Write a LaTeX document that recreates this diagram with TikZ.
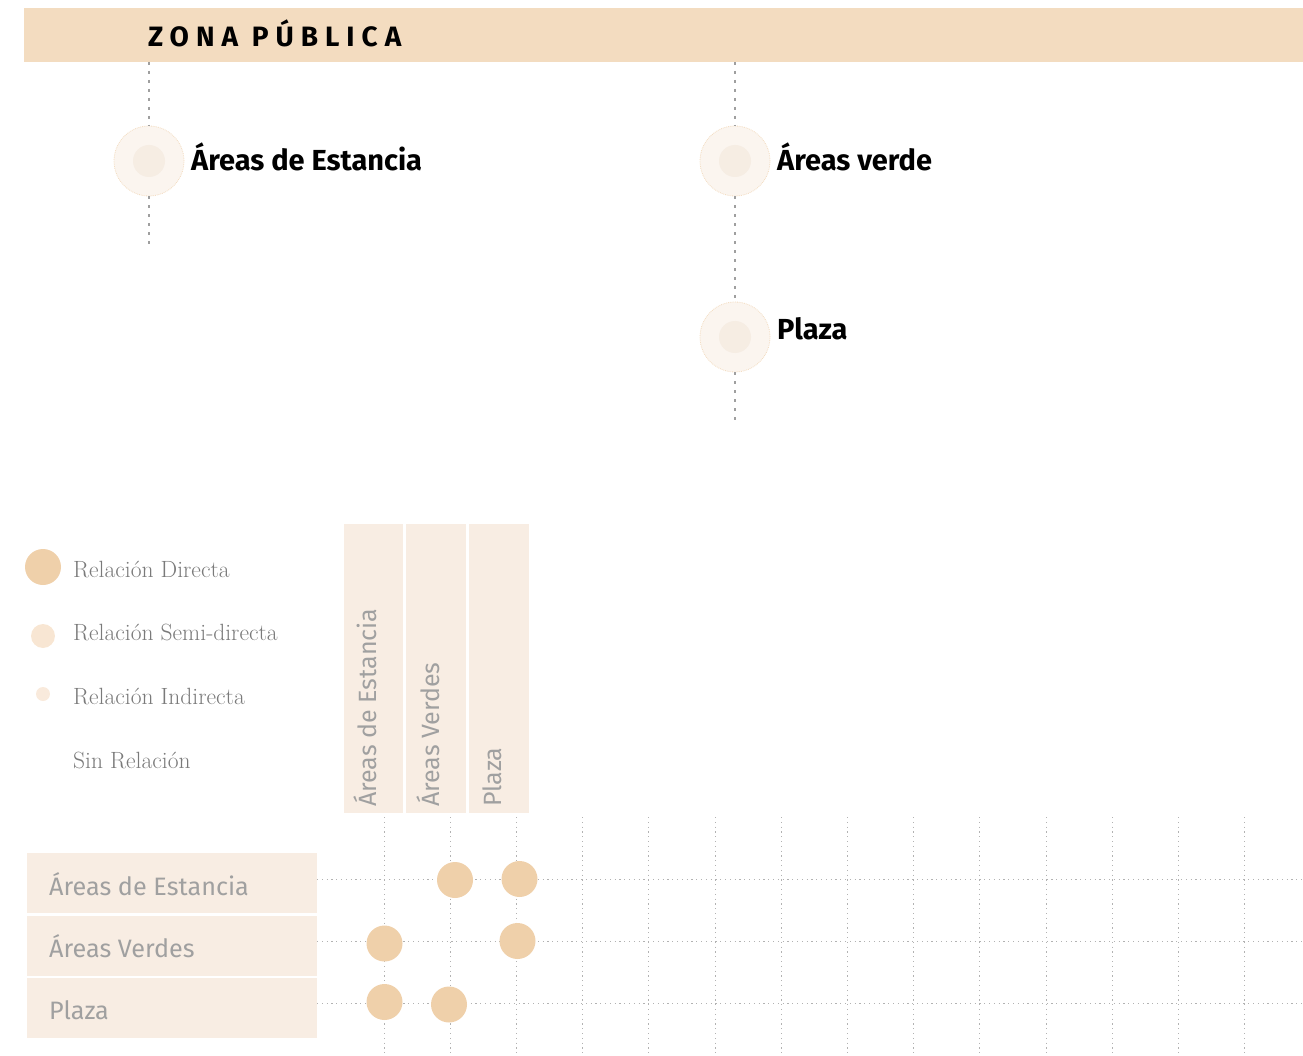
\documentclass[tikz,border=0pt]{standalone}
\usepackage{fontspec}
\newfontfamily\fira{Fira Sans}
\newfontfamily\firasp{Fira Sans}[LetterSpace=25]
\definecolor{hdr}{HTML}{F3DCC0}
\definecolor{boxc}{HTML}{F8EDE3}
\definecolor{dotd}{HTML}{EFD0AA}
\definecolor{dots}{HTML}{F8E6D3}
\definecolor{doti}{HTML}{F9EADC}
\definecolor{ringout}{HTML}{FBF5EF}
\definecolor{ringin}{HTML}{F6EDE3}
\definecolor{lgtxt}{HTML}{7A7A7A}
\definecolor{gtxt}{HTML}{A0A0A0}
\begin{document}
\begin{tikzpicture}[x=1pt,y=-1pt,
  treeline/.style={draw=gray!75, line width=2pt, dash pattern=on 3pt off 6pt},
  gridline/.style={draw=gray!60, line width=1pt, dash pattern=on 1.2pt off 3.6pt},
  bigc/.style={circle, minimum size=70pt, inner sep=0pt, fill=ringout, draw=hdr, line width=0.8pt, densely dotted},
  lbl/.style={anchor=base west, inner sep=0pt, font=\fira\bfseries\fontsize{29}{33}\selectfont},
  lgd/.style={anchor=base west, inner sep=0pt, text=lgtxt, font=\fontsize{23.5}{27}\selectfont},
  cbox/.style={rectangle, fill=boxc, inner sep=0pt, minimum width=59pt, minimum height=289pt},
  rbox/.style={rectangle, fill=boxc, inner sep=0pt, minimum width=290pt, minimum height=60pt},
  ctxt/.style={anchor=base west, inner sep=0pt, rotate=90, text=gtxt, font=\fira\fontsize{25}{29}\selectfont},
  rtxt/.style={anchor=base west, inner sep=0pt, text=gtxt, font=\fira\fontsize{25.2}{29}\selectfont},
  reldot/.style={circle, fill=dotd, inner sep=0pt, minimum size=36pt}
]
\useasboundingbox (0,0) rectangle (1303,1056);

% header
\node[fill=hdr, inner sep=0pt, minimum width=1279pt, minimum height=54pt, anchor=north west] (head) at (24,8) {};
\node[anchor=base west, inner sep=0pt, font=\firasp\bfseries\fontsize{28}{32}\selectfont] (headtxt) at (148,47) {ZONA PÚBLICA};

% tree
\coordinate (t1) at (149,62);
\coordinate (b1) at (149,245);
\coordinate (t2) at (735,62);
\coordinate (b3) at (735,420);
\node[bigc] (c1) at (149,161) {};
\node[bigc] (c2) at (735,161) {};
\node[bigc] (c3) at (735,337) {};
\fill[ringin] (c1) circle (16);
\fill[ringin] (c2) circle (16);
\fill[ringin] (c3) circle (16);
\draw[treeline] (t1) -- (c1);
\draw[treeline] (c1) -- (b1);
\draw[treeline] (t2) -- (c2);
\draw[treeline] (c2) -- (c3);
\draw[treeline] (c3) -- (b3);
\node[lbl] (l1) at (191,171) {Áreas de Estancia};
\node[lbl] (l2) at (777,171) {Áreas verde};
\node[lbl] (l3) at (777,339) {Plaza};

% legend
\node[circle, fill=dotd, inner sep=0pt, minimum size=36pt] (g1) at (43,567) {};
\node[circle, fill=dots, inner sep=0pt, minimum size=24pt] (g2) at (43,636) {};
\node[circle, fill=doti, inner sep=0pt, minimum size=14pt] (g3) at (43,694) {};
\node[lgd] (gt1) at (73,577) {Relación Directa};
\node[lgd] (gt2) at (73,640) {Relación Semi-directa};
\node[lgd] (gt3) at (73,704) {Relación Indirecta};
\node[lgd] (gt4) at (73,768) {Sin Relación};

% column headers
\node[cbox] (h1) at (373.5,668.5) {};
\node[cbox, minimum width=60pt] (h2) at (436,668.5) {};
\node[cbox, minimum width=60pt] (h3) at (499,668.5) {};
\node[ctxt] (ht1) at (376,807) {Áreas de Estancia};
\node[ctxt] (ht2) at (439,807) {Áreas Verdes};
\node[ctxt] (ht3) at (501,807) {Plaza};

% row headers
\node[rbox, anchor=north west] (r1) at (27,853) {};
\node[rbox, anchor=north west] (r2) at (27,915.5) {};
\node[rbox, anchor=north west] (r3) at (27,978) {};
\node[rtxt] (rt1) at (49,895) {Áreas de Estancia};
\node[rtxt] (rt2) at (49,957) {Áreas Verdes};
\node[rtxt] (rt3) at (49,1019) {Plaza};

% grid
\foreach \i in {0,...,13} {
  \draw[gridline] (384+66.2*\i,817) -- (384+66.2*\i,1056);
}
\foreach \yy in {879,941,1003} {
  \draw[gridline] (317,\yy) -- (1303,\yy);
}

% relation dots
\node[reldot] (d1) at (455,880) {};
\node[reldot] (d2) at (519.5,879) {};
\node[reldot] (d3) at (384.5,943.5) {};
\node[reldot] (d4) at (517.5,941) {};
\node[reldot] (d5) at (384.5,1002) {};
\node[reldot] (d6) at (449,1004.5) {};
\end{tikzpicture}
\end{document}
